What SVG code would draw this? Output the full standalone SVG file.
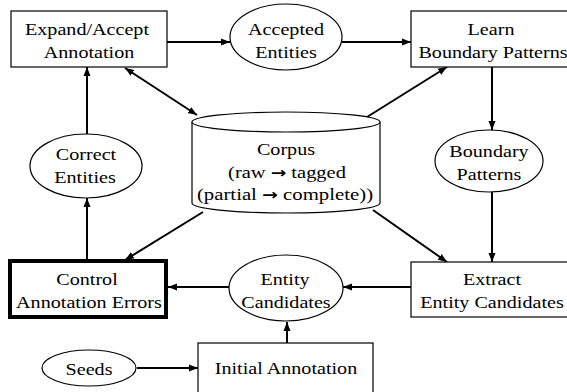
<svg xmlns="http://www.w3.org/2000/svg" width="567" height="392" viewBox="0 0 567 392">
<style>
.box{fill:#fff;stroke:#000;stroke-width:1.2}
.thick{fill:#fff;stroke:#000;stroke-width:4}
.ell{fill:#fff;stroke:#000;stroke-width:1.2}
.t{font-family:"Liberation Serif","Times New Roman",serif;font-size:16.5px;fill:#000;text-anchor:middle}
.ar{font-family:"DejaVu Sans",sans-serif;font-weight:bold;font-size:15px}
.c{stroke:#000;stroke-width:2;fill:none}
</style>
<defs>
<marker id="ah" markerUnits="userSpaceOnUse" markerWidth="10" markerHeight="8" refX="9" refY="4" orient="auto-start-reverse">
<path d="M0,0.5 L9,4 L0,7.5 z" fill="#000"/>
</marker>
</defs>
<g id="connectors">
<line class="c" x1="167" y1="42" x2="230" y2="42" marker-end="url(#ah)"/>
<line class="c" x1="342" y1="42" x2="411" y2="42" marker-end="url(#ah)"/>
<line class="c" x1="492" y1="67" x2="492" y2="130" marker-end="url(#ah)"/>
<line class="c" x1="492" y1="192" x2="492" y2="262" marker-end="url(#ah)"/>
<line class="c" x1="411" y1="287" x2="343" y2="287" marker-end="url(#ah)"/>
<line class="c" x1="229" y1="287" x2="168" y2="287" marker-end="url(#ah)"/>
<line class="c" x1="287" y1="343" x2="287" y2="322" marker-end="url(#ah)"/>
<line class="c" x1="137" y1="368" x2="198" y2="368" marker-end="url(#ah)"/>
<line class="c" x1="87" y1="259" x2="87" y2="198" marker-end="url(#ah)"/>
<line class="c" x1="87" y1="134" x2="87" y2="67" marker-end="url(#ah)"/>
<line class="c" x1="125" y1="68" x2="197" y2="115" marker-start="url(#ah)" marker-end="url(#ah)"/>
<line class="c" x1="367" y1="117" x2="447" y2="67" marker-end="url(#ah)"/>
<line class="c" x1="203" y1="212" x2="125" y2="260" marker-end="url(#ah)"/>
<line class="c" x1="373" y1="210" x2="447" y2="262" marker-end="url(#ah)"/>
</g>
<g id="expand">
<rect class="box" x="11" y="11" width="156" height="56"/>
<text class="t" transform="translate(87 35) scale(1.22 1)">Expand/Accept</text>
<text class="t" transform="translate(89 58) scale(1.22 1)">Annotation</text>
</g>
<g id="accepted">
<ellipse class="ell" cx="286" cy="37" rx="56" ry="33"/>
<text class="t" transform="translate(286 35) scale(1.22 1)">Accepted</text>
<text class="t" transform="translate(286 58) scale(1.22 1)">Entities</text>
</g>
<g id="learn">
<rect class="box" x="411" y="11" width="160" height="56"/>
<text class="t" transform="translate(491 35) scale(1.22 1)">Learn</text>
<text class="t" transform="translate(493 58) scale(1.22 1)">Boundary Patterns</text>
</g>
<g id="boundary">
<ellipse class="ell" cx="489" cy="161" rx="54" ry="31"/>
<text class="t" transform="translate(489 157) scale(1.22 1)">Boundary</text>
<text class="t" transform="translate(489 180) scale(1.22 1)">Patterns</text>
</g>
<g id="corpus">
<path class="ell" d="M192,122 L192,203 A94,10 0 0 0 380,203 L380,122"/>
<ellipse class="ell" cx="286" cy="122" rx="94" ry="10"/>
<text class="t" transform="translate(286 155) scale(1.22 1)">Corpus</text>
<text class="t" transform="translate(287 178) scale(1.24 1)">(raw <tspan class="ar">→</tspan> tagged</text>
<text class="t" transform="translate(285 200) scale(1.26 1)">(partial <tspan class="ar">→</tspan> complete))</text>
</g>
<g id="correct">
<ellipse class="ell" cx="86" cy="166" rx="56" ry="32"/>
<text class="t" transform="translate(86 160) scale(1.22 1)">Correct</text>
<text class="t" transform="translate(85 183) scale(1.22 1)">Entities</text>
</g>
<g id="control">
<rect class="thick" x="10" y="261" width="156" height="56"/>
<text class="t" transform="translate(87 285) scale(1.22 1)">Control</text>
<text class="t" transform="translate(89 308) scale(1.22 1)">Annotation Errors</text>
</g>
<g id="candidates">
<ellipse class="ell" cx="286" cy="288" rx="57" ry="33"/>
<text class="t" transform="translate(285 285) scale(1.22 1)">Entity</text>
<text class="t" transform="translate(286 308) scale(1.22 1)">Candidates</text>
</g>
<g id="extract">
<rect class="box" x="411" y="262" width="160" height="55"/>
<text class="t" transform="translate(492 285) scale(1.22 1)">Extract</text>
<text class="t" transform="translate(492 308) scale(1.22 1)">Entity Candidates</text>
</g>
<g id="seeds">
<ellipse class="ell" cx="89" cy="368" rx="47" ry="18"/>
<text class="t" transform="translate(89 375) scale(1.22 1)">Seeds</text>
</g>
<g id="initial">
<rect class="box" x="198" y="343" width="175" height="60"/>
<text class="t" transform="translate(286 374) scale(1.22 1)">Initial Annotation</text>
</g>
</svg>
